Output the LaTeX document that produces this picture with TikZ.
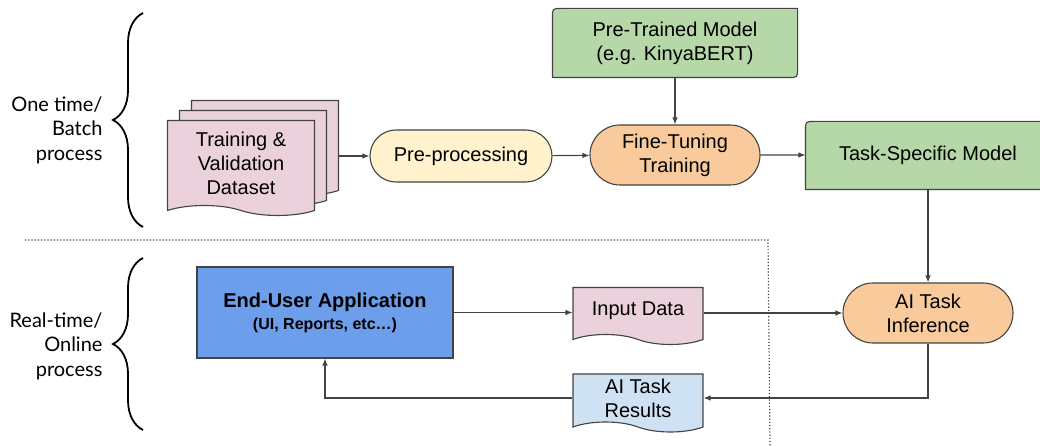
\documentclass[tikz,border=0pt]{standalone}
\usepackage{fontspec}
\setmainfont{Liberation Sans}
\newfontfamily\latofont{Lato}
\usetikzlibrary{arrows.meta}
\usetikzlibrary{shapes.misc,shapes.symbols}
\usetikzlibrary{backgrounds}
\usetikzlibrary{decorations.pathreplacing}
\definecolor{linegray}{HTML}{434343}
\definecolor{pinkfill}{HTML}{EAD1DC}
\definecolor{yellowfill}{HTML}{FFF2CC}
\definecolor{orangefill}{HTML}{F9CB9C}
\definecolor{greenfill}{HTML}{B6D7A8}
\definecolor{bluefill}{HTML}{6D9EEB}
\definecolor{skyfill}{HTML}{CFE2F3}
\tikzset{box/.style={draw=linegray,line width=1.1pt,inner sep=0pt,align=center,font=\fontsize{20}{24}\selectfont}}
\tikzset{pill/.style={box,rounded rectangle,minimum width=170pt,minimum height=60pt,fill=orangefill}}
\tikzset{doc/.style={box,tape,tape bend top=none,tape bend bottom=out and in,tape bend height=10pt}}
\tikzset{arr/.style={draw=linegray,line width=1.1pt,-{Latex[length=7pt,width=5.5pt]}}}
\tikzset{side/.style={font=\latofont\fontsize{20}{24.5}\selectfont,align=right,anchor=east}}

\begin{document}
\begin{tikzpicture}[x=1pt,y=-1pt]
  \useasboundingbox (0,0) rectangle (1040,446);
  % left braces and labels
  \node[side] (batch) at (106,130) {One time/\\Batch\\process};
  \node[side] (online) at (106,346) {Real-time/\\Online\\process};
  \draw[decorate,decoration={brace,amplitude=30pt},line width=1.8pt] (143,227) -- (143,13);
  \draw[decorate,decoration={brace,amplitude=30pt},line width=1.8pt] (143,430) -- (143,258);
  \draw[dotted,line width=1.2pt,linegray] (25,240) -- (768,240) -- (770,446);
  % batch part
  \node[doc,fill=pinkfill,minimum width=147pt,minimum height=95pt] (data3) at (265,143) {};
  \node[doc,fill=pinkfill,minimum width=147pt,minimum height=95pt] (data2) at (253,153) {};
  \node[doc,fill=pinkfill,minimum width=147pt,minimum height=95pt] (data) at (241,163) {Training \&\\Validation\\Dataset};
  \node[box,rounded rectangle,fill=yellowfill,minimum width=182pt,minimum height=52pt] (prep) at (461,156) {Pre-processing};
  \node[pill] (tune) at (675,155) {Fine-Tuning\\Training};
  \node[box,draw=none,minimum width=244pt,minimum height=68pt] (ptm) at (675,43) {Pre-Trained Model\\(e.g. KinyaBERT)};
  \node[box,draw=none,minimum width=244pt,minimum height=67pt] (tsm) at (928,155.5) {Task-Specific Model};
  \begin{scope}[on background layer]
    \draw[draw=linegray,line width=1.1pt,fill=greenfill] (ptm.south west) -- ([yshift=-9pt]ptm.north west)
      .. controls (ptm.north west) .. ([xshift=9pt]ptm.north west) -- (ptm.north east)
      -- ([yshift=9pt]ptm.south east) .. controls (ptm.south east) .. ([xshift=-9pt]ptm.south east) -- cycle;
    \draw[draw=linegray,line width=1.1pt,fill=greenfill] (tsm.south west) -- ([yshift=-9pt]tsm.north west)
      .. controls (tsm.north west) .. ([xshift=9pt]tsm.north west) -- (tsm.north east)
      -- (tsm.south east) -- cycle;
  \end{scope}
  \draw[arr] (data3.east |- prep.west) -- (prep.west);
  \draw[arr] (prep) -- (tune);
  \draw[arr] (ptm) -- (tune);
  \draw[arr] (tune) -- (tsm.west |- tune.east);
  % online part
  \node[pill] (infer) at (928,313) {AI Task\\Inference};
  \node[box,fill=bluefill,minimum width=256pt,minimum height=91pt] (app) at (325,312.5)
    {\textbf{End-User Application}\\[-2pt]{\fontsize{16}{18}\selectfont\textbf{(UI, Reports, etc\ldots)}}};
  \node[doc,fill=pinkfill,minimum width=130pt,minimum height=57pt] (input) at (638,311) {Input Data};
  \node[doc,fill=skyfill,minimum width=130pt,minimum height=58pt] (result) at (638,398) {AI Task\\Results};
  \draw[arr] (infer.north |- tsm.south) -- (infer.north);
  \draw[arr] (app.east) -- (app.east -| input.west);
  \draw[arr] (input.east |- infer.west) -- (infer.west);
  \draw[arr] (infer.south) |- (result.east);
  \draw[arr] (result.west) -| (app.south);
\end{tikzpicture}
\end{document}
